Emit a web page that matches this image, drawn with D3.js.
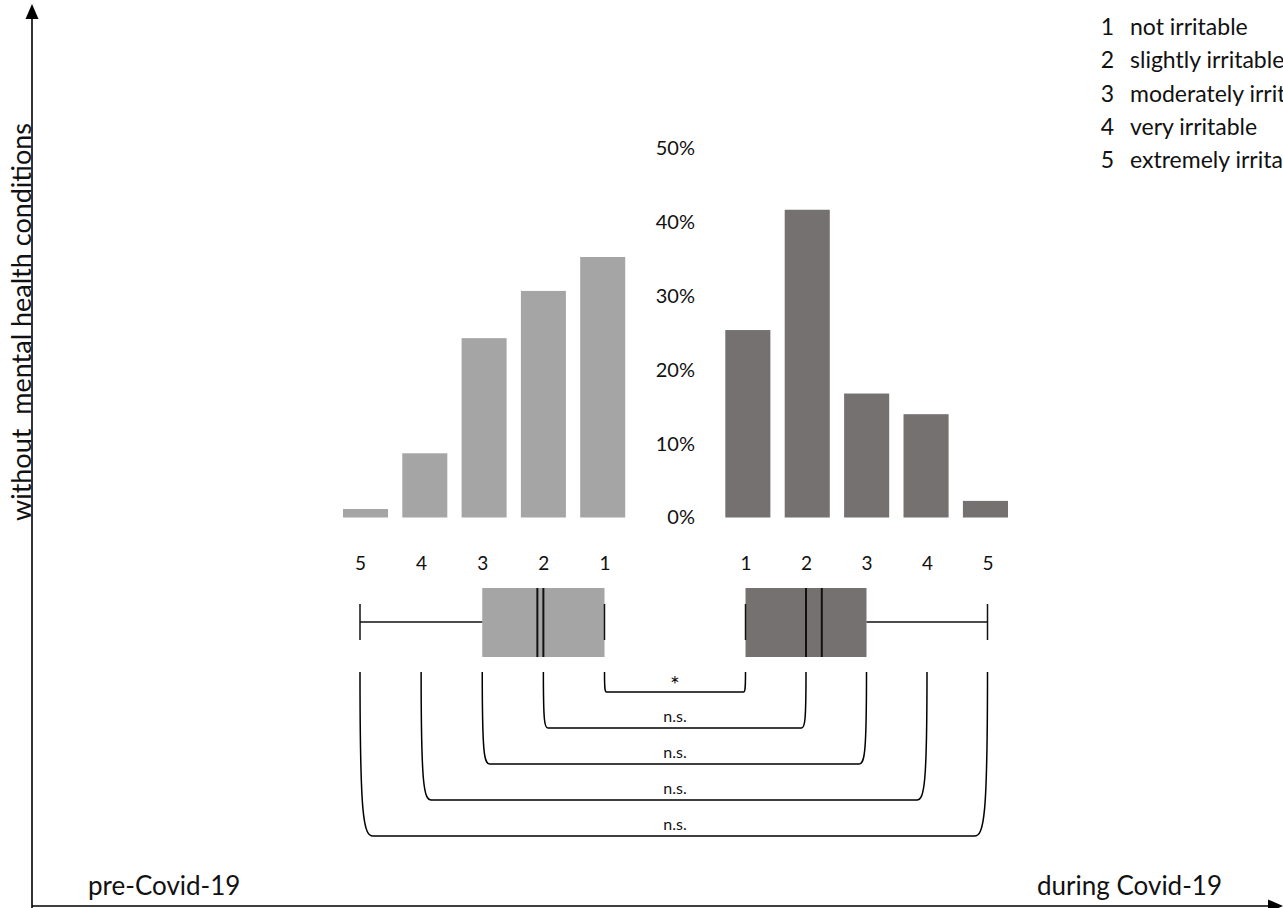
<!DOCTYPE html>
<html>
<head>
<meta charset="utf-8">
<script src="https://cdn.jsdelivr.net/npm/d3@7"></script>
<style>
  html, body { margin: 0; padding: 0; background: #fff; }
  svg { display: block; }
  text { font-family: Lato, "Open Sans", sans-serif; fill: #111; }
</style>
</head>
<body>
<svg id="chart" width="1283" height="908"></svg>
<script>
// Irritability levels (1 = not irritable ... 5 = extremely irritable)
const levels = [1, 2, 3, 4, 5];
const levelNames = ["not irritable", "slightly irritable", "moderately irritable", "very irritable", "extremely irritable"];

// Share of respondents per level, in percent (order follows `levels`)
const preCovid = [35.3, 30.7, 24.3, 8.7, 1.15];
const duringCovid = [25.4, 41.7, 16.8, 14.0, 2.25];

// Percent axis ticks
const percentTicks = [0, 10, 20, 30, 40, 50];

// Pairwise level comparisons (pre vs during) and their significance
const comparedLevels = [1, 2, 3, 4, 5];
const significance = ["*", "n.s.", "n.s.", "n.s.", "n.s."];

const periodLabels = ["pre-Covid-19", "during Covid-19"];
const groupLabel = "without  mental health conditions";

const colPre = "#a5a5a5";
const colDuring = "#767171";

const svg = d3.select("#chart");

// ---- summary statistics from a level distribution ----
function stats(dist) {
  const total = d3.sum(dist);
  const cum = d3.cumsum(dist).map(v => v / total);
  const q = p => levels[cum.findIndex(c => c >= p - 1e-9)];
  const present = levels.filter((l, i) => dist[i] > 0);
  return {
    min: d3.min(present),
    max: d3.max(present),
    q1: q(0.25),
    median: q(0.5),
    q3: q(0.75),
    mean: d3.sum(levels.map((l, i) => l * dist[i])) / total
  };
}

// ---- scales ----
const y = d3.scaleLinear().domain([0, 50]).range([517.5, 148.5]);

const xBarPre = d3.scaleBand().domain(levels.slice().reverse()).range([343, 625.2]).paddingInner(0.241).paddingOuter(0);
const xBarDuring = d3.scaleBand().domain(levels).range([725.3, 1008]).paddingInner(0.241).paddingOuter(0);

const xBoxPre = d3.scaleLinear().domain([1, 5]).range([604.5, 360]);
const xBoxDuring = d3.scaleLinear().domain([1, 5]).range([745.5, 987.5]);

// ---- frame arrows ----
const frame = svg.append("g").attr("stroke", "#000").attr("stroke-width", 1.6);
frame.append("line").attr("x1", 32).attr("y1", 908).attr("x2", 32).attr("y2", 16);
frame.append("line").attr("x1", 32).attr("y1", 906).attr("x2", 1272).attr("y2", 906);
svg.append("path").attr("d", "M32,4 L25.5,19 L38.5,19 Z").attr("fill", "#000");
svg.append("path").attr("d", "M1283,906 L1268,899.5 L1268,912.5 Z").attr("fill", "#000");

// ---- bars ----
svg.append("g").selectAll("rect")
  .data(levels.map((l, i) => ({ l, v: preCovid[i] })))
  .join("rect")
  .attr("x", d => xBarPre(d.l))
  .attr("width", xBarPre.bandwidth())
  .attr("y", d => y(d.v))
  .attr("height", d => y(0) - y(d.v))
  .attr("fill", colPre);

svg.append("g").selectAll("rect")
  .data(levels.map((l, i) => ({ l, v: duringCovid[i] })))
  .join("rect")
  .attr("x", d => xBarDuring(d.l))
  .attr("width", xBarDuring.bandwidth())
  .attr("y", d => y(d.v))
  .attr("height", d => y(0) - y(d.v))
  .attr("fill", colDuring);

// ---- percent axis ----
const yAxis = svg.append("g")
  .attr("transform", "translate(695,0)")
  .call(d3.axisLeft(y).tickValues(percentTicks).tickFormat(d => d + "%").tickSize(0).tickPadding(0));
yAxis.select(".domain").remove();
yAxis.selectAll("text").attr("font-family", "Lato, sans-serif").attr("font-size", 20).attr("fill", "#111");

// ---- level labels above box plots ----
function levelAxis(scale) {
  const g = svg.append("g")
    .attr("transform", "translate(0,556)")
    .call(d3.axisBottom(scale).tickValues(levels).tickFormat(d3.format("d")).tickSize(0).tickPadding(0));
  g.select(".domain").remove();
  g.selectAll("text").attr("font-family", "Lato, sans-serif").attr("font-size", 19).attr("fill", "#111");
}
levelAxis(xBoxPre);
levelAxis(xBoxDuring);

// ---- box plots ----
const boxTop = 588, boxBottom = 657, boxMid = 622, capHalf = 18;
function boxPlot(dist, scale, fill) {
  const s = stats(dist);
  const g = svg.append("g");
  const x0 = Math.min(scale(s.q1), scale(s.q3));
  const x1 = Math.max(scale(s.q1), scale(s.q3));
  g.append("rect").attr("x", x0).attr("y", boxTop).attr("width", x1 - x0).attr("height", boxBottom - boxTop).attr("fill", fill);
  const line = g.append("g").attr("stroke", "#111").attr("stroke-width", 1.5);
  // whiskers
  [[s.min, s.q1], [s.q3, s.max]].forEach(([a, b]) => {
    if (a !== b) line.append("line").attr("x1", scale(a)).attr("x2", scale(b)).attr("y1", boxMid).attr("y2", boxMid);
  });
  [s.min, s.max].forEach(v => {
    line.append("line").attr("x1", scale(v)).attr("x2", scale(v)).attr("y1", boxMid - capHalf).attr("y2", boxMid + capHalf);
  });
  // median and mean
  const ml = g.append("g").attr("stroke", "#111").attr("stroke-width", 2);
  [s.median, s.mean].forEach(v => {
    ml.append("line").attr("x1", scale(v)).attr("x2", scale(v)).attr("y1", boxTop).attr("y2", boxBottom);
  });
}
boxPlot(preCovid, xBoxPre, colPre);
boxPlot(duringCovid, xBoxDuring, colDuring);

// ---- significance brackets ----
const bracketTop = 672;
const br = svg.append("g");
comparedLevels.forEach((lev, i) => {
  const xl = xBoxPre(lev), xr = xBoxDuring(lev);
  const bottom = 692 + i * 36;
  const h = bottom - bracketTop;
  const inset = i === 0 ? 2 : h * 0.08;
  const p = d3.path();
  p.moveTo(xl, bracketTop);
  p.bezierCurveTo(xl, bottom - h * 0.12, xl + inset * 0.25, bottom, xl + inset, bottom);
  p.lineTo(xr - inset, bottom);
  p.bezierCurveTo(xr - inset * 0.25, bottom, xr, bottom - h * 0.12, xr, bracketTop);
  br.append("path").attr("d", p.toString()).attr("fill", "none").attr("stroke", "#000").attr("stroke-width", 1.5);
  br.append("text")
    .attr("x", (xBoxPre(1) + xBoxDuring(1)) / 2)
    .attr("y", i === 0 ? bottom + 1 : bottom - 6)
    .attr("text-anchor", "middle")
    .attr("font-size", i === 0 ? 23 : 16)
    .text(significance[i]);
});

// ---- period labels ----
svg.append("text").attr("x", 88).attr("y", 895).attr("font-size", 26).text(periodLabels[0]);
svg.append("text").attr("x", 1222).attr("y", 895).attr("text-anchor", "end").attr("font-size", 26).text(periodLabels[1]);

// ---- group label along vertical arrow ----
svg.append("text")
  .attr("transform", "translate(31,322) rotate(-90)")
  .attr("text-anchor", "middle")
  .attr("font-size", 27)
  .style("white-space", "pre")
  .text(groupLabel);

// ---- level legend ----
const legend = svg.append("g")
  .attr("font-family", "'Open Sans', sans-serif")
  .attr("font-size", 23);
levels.forEach((l, i) => {
  const yy = 35 + i * 33.3;
  legend.append("text").attr("x", 1114).attr("y", yy).attr("text-anchor", "end")
    .attr("font-family", "'Open Sans', sans-serif").attr("fill", "#3a3a3a").text(l);
  legend.append("text").attr("x", 1130).attr("y", yy)
    .attr("font-family", "'Open Sans', sans-serif").attr("fill", "#3a3a3a").text(levelNames[i]);
});
</script>
</body>
</html>
